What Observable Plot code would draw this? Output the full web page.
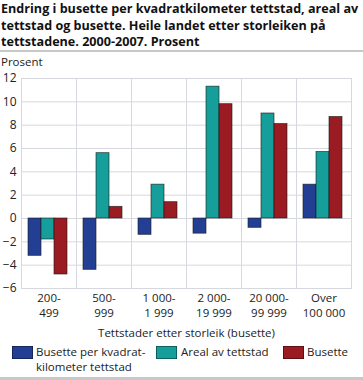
<!DOCTYPE html>
<html><head><meta charset="utf-8">
<script src="https://cdn.jsdelivr.net/npm/d3@7"></script>
<script src="https://cdn.jsdelivr.net/npm/@observablehq/plot@0.6"></script>
<style>
body{margin:0;background:#fff;font-family:"Open Sans",sans-serif;color:#111}
#wrap{position:relative;width:363px;height:380px;overflow:hidden;background:#fff}
#title{position:absolute;left:1px;top:1px;width:362px;font-weight:bold;font-size:12.6px;line-height:16.5px;color:#111;white-space:nowrap}
#rule1{position:absolute;left:0;top:50px;width:363px;height:2px;background:#c8c8c8}
#rule2{position:absolute;left:0;top:377px;width:363px;height:3px;background:#c8c8c8}
#unit{position:absolute;left:1px;top:55px;font-size:11.5px;line-height:14px;color:#222}
#chart{position:absolute;left:0;top:60px}
.lg{position:absolute;top:345px;font-size:11.5px;line-height:14.5px;color:#222}
.sw{position:absolute;top:346px;width:21px;height:13px}
</style></head>
<body><div id="wrap">
<div id="title">Endring i busette per kvadratkilometer tettstad, areal av<br>tettstad og busette. Heile landet etter storleiken på<br>tettstadene. 2000-2007. Prosent</div>
<div id="rule1"></div>
<div id="unit">Prosent</div>
<div id="chart"></div>
<div id="legend"></div>
<div id="rule2"></div>
</div>
<script>
const categories = ["200-499", "500-999", "1 000-1 999", "2 000-19 999", "20 000-99 999", "Over 100 000"];
const catLine1 = ["200-", "500-", "1 000-", "2 000-", "20 000-", "Over"];
const catLine2 = ["499", "999", "1 999", "19 999", "99 999", "100 000"];
const series = ["Busette per kvadratkilometer tettstad", "Areal av tettstad", "Busette"];
const legendLabels = ["Busette per kvadrat-<br>kilometer tettstad", "Areal av tettstad", "Busette"];
const density = [-3.2, -4.4, -1.4, -1.3, -0.8, 2.9];
const area = [-1.8, 5.6, 2.9, 11.3, 9.0, 5.7];
const population = [-4.8, 1.0, 1.4, 9.8, 8.1, 8.7];
const yTicks = [-6, -4, -2, 0, 2, 4, 6, 8, 10, 12];
const colors = ["#233f94", "#169e9b", "#9b1b22"];

const valuesBySeries = [density, area, population];
const rows = [];
categories.forEach((c, i) => series.forEach((s, j) => rows.push({cat: c, series: s, value: valuesBySeries[j][i]})));

const grid = "#d5d8de";
const chart = Plot.plot({
  width: 363, height: 280,
  marginTop: 18, marginLeft: 21, marginRight: 12, marginBottom: 52,
  style: {fontSize: "11.5px", fontFamily: "'Open Sans', sans-serif", color: "#222", background: "transparent"},
  fx: {domain: categories, padding: 0, axis: null},
  x: {domain: series, axis: null, paddingInner: 0, paddingOuter: 0.6, align: 0.45},
  y: {domain: [-6, 12]},
  color: {domain: series, range: colors},
  marks: [
    Plot.ruleY(yTicks, {stroke: grid, strokeWidth: 1}),
    Plot.frame({stroke: grid, strokeWidth: 1}),
    Plot.barY(rows, {fx: "cat", x: "series", y: "value", fill: "series", stroke: "#1a1a1a", strokeOpacity: 0.75, strokeWidth: 0.8}),
    Plot.axisY({ticks: yTicks, tickSize: 0, tickPadding: 5, label: null, fontSize: 12}),
    Plot.axisFx({anchor: "bottom", tickSize: 0, tickPadding: 3, fontSize: 11.5, lineHeight: 1.3,
      tickFormat: d => { const i = categories.indexOf(d); return catLine1[i] + "\n" + catLine2[i]; },
      label: "Tettstader etter storleik (busette)", labelAnchor: "center", labelArrow: "none", labelOffset: 48})
  ]
});
document.getElementById("chart").appendChild(chart);

const legend = document.getElementById("legend");
const swX = [12, 156, 283];
const txX = [36, 181, 307];
series.forEach((s, i) => {
  const sw = document.createElement("div");
  sw.className = "sw"; sw.style.left = swX[i] + "px"; sw.style.background = colors[i];
  sw.style.boxShadow = "inset 0 0 0 0.8px rgba(0,0,0,0.5)";
  legend.appendChild(sw);
  const t = document.createElement("div");
  t.className = "lg"; t.style.left = txX[i] + "px"; t.innerHTML = legendLabels[i];
  legend.appendChild(t);
});
</script>
</body></html>
